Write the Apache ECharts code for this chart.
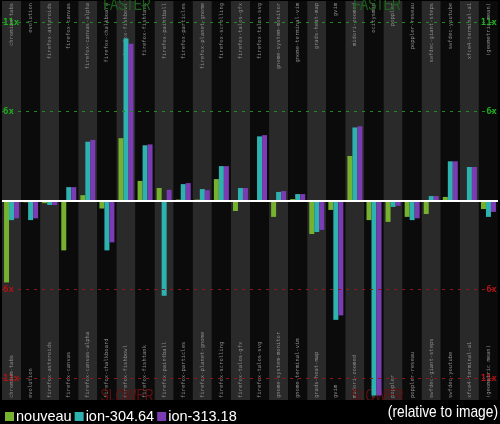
<!DOCTYPE html>
<html>
<head>
<meta charset="utf-8">
<script src="https://cdn.jsdelivr.net/npm/echarts@6/dist/echarts.min.js"></script>
<style>
  html, body { margin: 0; padding: 0; background: #000; }
  #chart { width: 500px; height: 424px; }
</style>
</head>
<body>
<div id="chart"></div>
<script>
// speed relative to image backend, stored as (ratio - 1): + faster, - slower
const categories = [
  'chromium-tabs', 'evolution', 'firefox-asteroids', 'firefox-canvas',
  'firefox-canvas-alpha', 'firefox-chalkboard', 'firefox-fishbowl',
  'firefox-fishtank', 'firefox-paintball', 'firefox-particles',
  'firefox-planet-gnome', 'firefox-scrolling', 'firefox-talos-gfx',
  'firefox-talos-svg', 'gnome-system-monitor', 'gnome-terminal-vim',
  'grads-heat-map', 'gvim', 'midori-zoomed', 'ocitysmap', 'poppler',
  'poppler-reseau', 'swfdec-giant-steps', 'swfdec-youtube',
  'xfce4-terminal-a1', '(geometric mean)'
];
const nouveau = [-4.6, -0.1, -0.15, -2.8, 0.3, -0.45, 3.5, 1.1, 0.7, 0.05, 0.05, 1.2, -0.59,
  -0.08, -0.92, 0.08, -1.88, -0.53, 2.5, -1.1, -1.2, -0.92, -0.76, 0.2, 0.02, -0.48];
const ion30464 = [-1.1, -1.1, -0.25, 0.75, 3.3, -2.8, 9.1, 3.1, -5.35, 0.92, 0.64, 1.93, 0.7,
  3.6, 0.48, 0.36, -1.77, -6.7, 4.1, -10.95, -0.36, -1.1, 0.25, 2.2, 1.88, -0.92];
const ion31318 = [-1.0, -1.0, -0.25, 0.75, 3.4, -2.35, 8.8, 3.15, 0.6, 0.98, 0.58, 1.93, 0.7,
  3.67, 0.53, 0.36, -1.65, -6.45, 4.17, -10.95, -0.3, -1.0, 0.25, 2.2, 1.88, -0.64];
const tickValues = [-10, -5, 5, 10];
const tickLabels = ['11x', '6x', '6x', '11x'];

const chart = echarts.init(document.getElementById('chart'));

const tickLabelOf = v => tickLabels[tickValues.indexOf(v)] || '';
const tickColor = v => (v > 0 ? '#1fae1f' : '#b01414');
const sans = '"Liberation Sans", Arial, sans-serif';

const catAxis = (position, split) => ({
  type: 'category',
  data: categories,
  position: position,
  axisLine: { show: false },
  axisTick: { show: false },
  splitArea: { show: split, areaStyle: { color: ['#2a2a2a', '#0b0b0b'] } },
  axisLabel: {
    inside: true,
    rotate: 90,
    interval: 0,
    margin: 2,
    color: '#8a8a8a',
    fontSize: 5.5,
    fontFamily: 'DejaVu Sans Mono'
  }
});

const valAxis = position => ({
  type: 'value',
  position: position,
  min: -11.2,
  max: 11.2,
  splitLine: { show: false },
  axisLine: { show: false },
  axisTick: { show: false },
  axisLabel: {
    inside: true,
    margin: 1,
    customValues: tickValues,
    formatter: tickLabelOf,
    color: tickColor,
    fontSize: 9,
    fontWeight: 'bold',
    fontFamily: 'DejaVu Sans Mono'
  }
});

const guideLines = tickValues.map(v => ({
  yAxis: v,
  lineStyle: { color: v > 0 ? '#1f8a1f' : '#8a1a1a', type: [3, 5], width: 1 }
}));
guideLines.push({ yAxis: 0, lineStyle: { color: '#ffffff', type: 'solid', width: 2 } });

const bar = (name, data, color) => ({
  name: name,
  type: 'bar',
  data: data,
  barWidth: 5,
  barGap: '0%',
  itemStyle: { color: color },
  z: 3
});

const series = [
  bar('nouveau', nouveau, '#76b230'),
  bar('ion-304.64', ion30464, '#2eb2b0'),
  bar('ion-313.18', ion31318, '#7a3bb3')
];
series[0].markLine = {
  silent: true,
  symbol: 'none',
  label: { show: false },
  data: guideLines,
  z: 4
};

// condensed-looking big text (no narrow font installed, so squeeze horizontally)
const bigText = (text, x, y, fill, align, z) => ({
  type: 'text', z: z, x: x, y: y, scaleX: 0.72,
  style: { text: text, align: align, verticalAlign: 'middle', fill: fill, font: '17px ' + sans }
});

const option = {
  backgroundColor: '#000',
  animation: false,
  grid: { left: 0, right: 0, top: 0, height: 400, containLabel: false },
  xAxis: [catAxis('bottom', true), catAxis('top', false)],
  yAxis: [valAxis('left'), valAxis('right')],
  legend: {
    data: ['nouveau', 'ion-304.64', 'ion-313.18'],
    left: 0,
    top: 404,
    z: 20,
    icon: 'rect',
    itemWidth: 9,
    itemHeight: 9,
    itemGap: 3,
    textStyle: { color: '#ffffff', fontSize: 14.5, fontFamily: sans, padding: [0, 0, 0, -3] }
  },
  graphic: [
    bigText('FASTER', 127, 5, '#1b641b', 'center', 1),
    bigText('FASTER', 377, 5, '#1b641b', 'center', 1),
    bigText('SLOWER', 127, 396, '#621010', 'center', 1),
    bigText('SLOWER', 377, 396, '#621010', 'center', 1),
    { type: 'rect', z: 3, shape: { x: 0, y: 400, width: 500, height: 24 }, style: { fill: '#000' } },
    Object.assign(bigText('(relative to image)', 498, 412, '#ffffff', 'right', 6), { scaleX: 0.81 })
  ],
  series: series
};

chart.setOption(option);
</script>
</body>
</html>
